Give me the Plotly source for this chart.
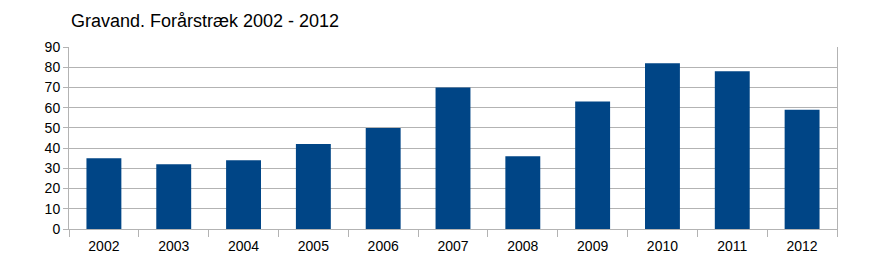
import plotly.graph_objects as go

years = ["2002", "2003", "2004", "2005", "2006", "2007", "2008", "2009", "2010", "2011", "2012"]
counts = [35, 32, 34, 42, 50, 70, 36, 63, 82, 78, 59]
y_ticks = [0, 10, 20, 30, 40, 50, 60, 70, 80, 90]

fig = go.Figure(go.Bar(x=years, y=counts, marker=dict(color="#004586", line=dict(width=0)), width=0.5))

fig.update_layout(
    width=872, height=276,
    margin=dict(l=69, r=35, t=47, b=47),
    paper_bgcolor="white", plot_bgcolor="white",
    font=dict(family="Liberation Sans, Arial, sans-serif", size=14, color="black"),
    title=dict(text="Gravand. Forårstræk 2002 - 2012", x=0, xref="paper", xanchor="left",
               y=1, yref="container", yanchor="top", pad=dict(t=14, l=2),
               font=dict(size=18, color="black")),
    showlegend=False,
    bargap=0.5,
)
fig.update_xaxes(type="category", showline=True, linecolor="#b3b3b3", linewidth=1,
                 ticks="outside", tickson="boundaries", ticklen=7, tickcolor="#b3b3b3",
                 showgrid=False, mirror=False, ticklabelstandoff=4)
fig.update_yaxes(range=[0, 90], tickvals=y_ticks, showline=True, linecolor="#b3b3b3",
                 linewidth=1, mirror=True, ticks="outside", ticklen=5, tickcolor="#b3b3b3",
                 gridcolor="#b3b3b3", gridwidth=1, zeroline=False)

fig.write_html("out.html")
